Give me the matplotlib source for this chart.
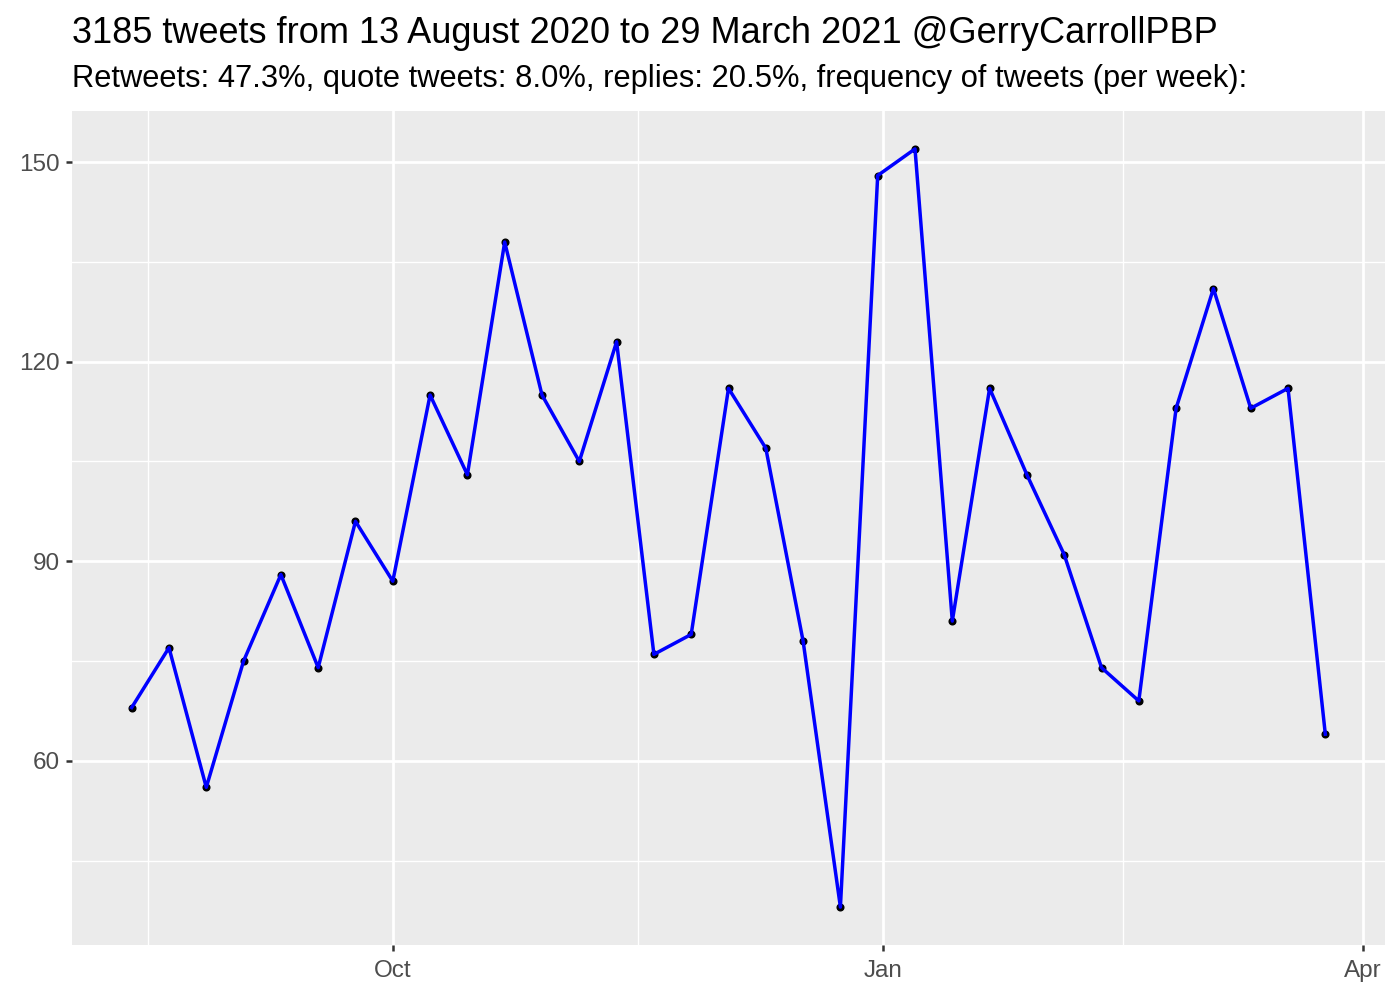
import matplotlib
matplotlib.use("Agg")
import matplotlib.pyplot as plt
import matplotlib.dates as mdates
import pandas as pd

# weekly tweet counts, one value per week starting 13 Aug 2020
week_start = "2020-08-13"
tweets_per_week = [68, 77, 56, 75, 88, 74, 96, 87, 115, 103, 138, 115, 105, 123,
                   76, 79, 116, 107, 78, 38, 148, 152, 81, 116, 103, 91, 74, 69,
                   113, 131, 113, 116, 64]
weeks = pd.date_range(week_start, periods=len(tweets_per_week), freq="7D")

title = "3185 tweets from 13 August 2020 to 29 March 2021 @GerryCarrollPBP"
subtitle = ("Retweets: 47.3%, quote tweets: 8.0%, replies: 20.5%, "
            "frequency of tweets (per week):")
y_breaks = [60, 90, 120, 150]
y_minor = [45, 75, 105, 135]
x_breaks = pd.to_datetime(["2020-10-01", "2021-01-01", "2021-04-01"])
x_minor = pd.to_datetime(["2020-08-16", "2020-11-16", "2021-02-15"])

plt.rcParams["font.family"] = ["Liberation Sans", "DejaVu Sans"]

fig = plt.figure(figsize=(14, 10), dpi=100)
ax = fig.add_axes([72 / 1400, 55 / 1000, 1313 / 1400, 834 / 1000])
ax.set_facecolor("#EBEBEB")
for s in ax.spines.values():
    s.set_visible(False)

ax.plot(weeks, tweets_per_week, "o", color="black", markersize=4.8, zorder=3)
ax.plot(weeks, tweets_per_week, color="#0000FF", linewidth=2.5, zorder=4)

# ggplot-style 5% expansion
span = weeks[-1] - weeks[0]
ax.set_xlim(weeks[0] - span * 0.05, weeks[-1] + span * 0.05)
lo, hi = min(tweets_per_week), max(tweets_per_week)
ax.set_ylim(lo - (hi - lo) * 0.05, hi + (hi - lo) * 0.05)

ax.set_xticks(x_breaks)
ax.set_xticks(x_minor, minor=True)
ax.xaxis.set_major_formatter(mdates.DateFormatter("%b"))
ax.set_yticks(y_breaks)
ax.set_yticks(y_minor, minor=True)

ax.grid(which="major", color="white", linewidth=2.0)
ax.grid(which="minor", color="white", linewidth=1.0)
ax.set_axisbelow(True)
ax.tick_params(which="major", length=4.5, width=1.8, color="#333333",
               labelsize=17.5, labelcolor="#4D4D4D", pad=4.5)
ax.tick_params(axis="x", pad=6)
ax.tick_params(which="minor", length=0)

fig.text(72 / 1400, 1 - 43 / 1000, title, fontsize=26, color="black")
fig.text(72 / 1400, 1 - 87 / 1000, subtitle, fontsize=22.2, color="black")

fig.savefig("out.png", dpi=100)
